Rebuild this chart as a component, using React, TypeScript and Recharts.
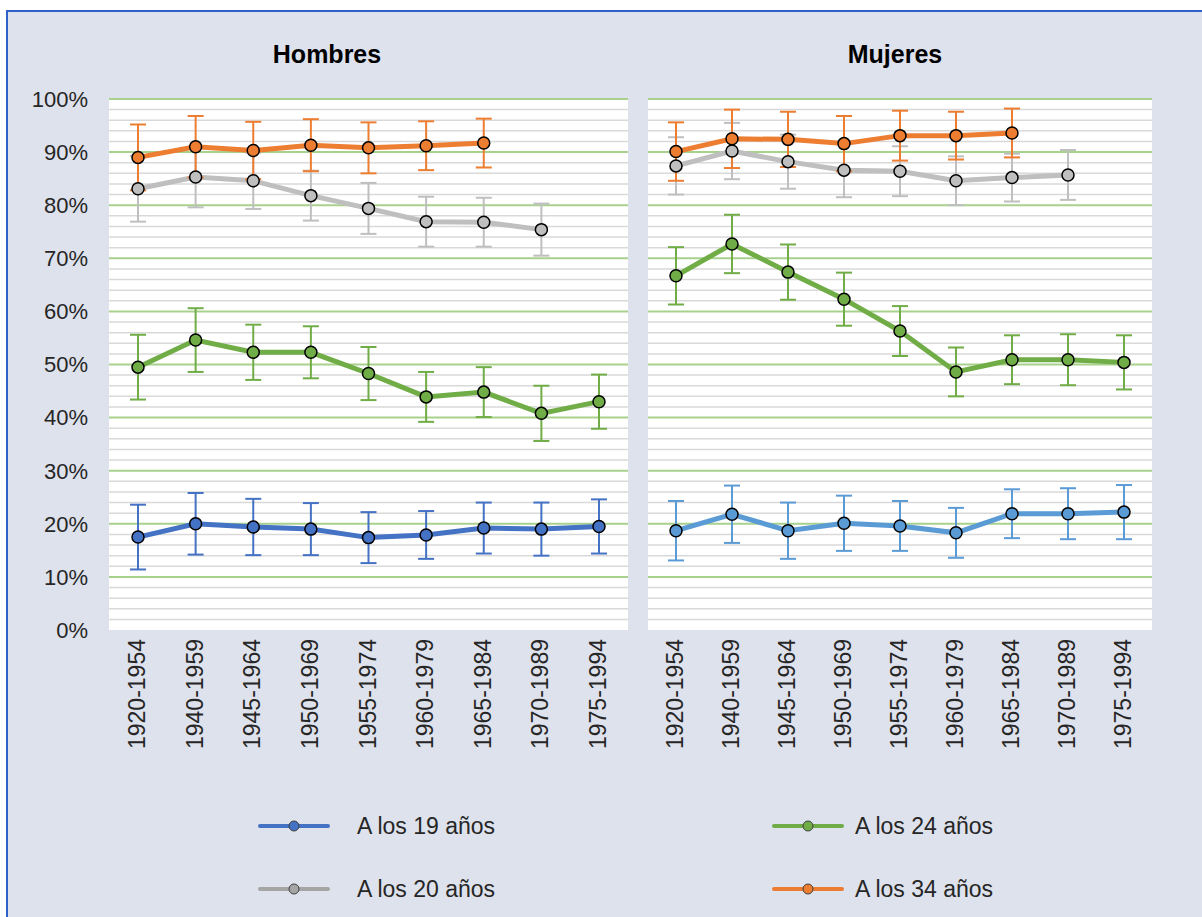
import React from 'react';
import { LineChart, Line, XAxis, YAxis, ErrorBar, ReferenceLine, CartesianGrid } from 'recharts';

const categories = ['1920-1954', '1940-1959', '1945-1964', '1950-1969', '1955-1974', '1960-1979', '1965-1984', '1970-1989', '1975-1994'];

const h19 = [17.5, 20.0, 19.4, 19.0, 17.4, 17.9, 19.2, 19.0, 19.5];
const h19Err = [6.1, 5.8, 5.3, 4.9, 4.8, 4.5, 4.8, 5.0, 5.1];
const h20 = [83.1, 85.3, 84.6, 81.8, 79.4, 76.9, 76.8, 75.4, null];
const h20Err = [6.2, 5.7, 5.3, 4.7, 4.8, 4.7, 4.6, 4.9, null];
const h24 = [49.5, 54.6, 52.3, 52.3, 48.3, 43.9, 44.8, 40.8, 43.0];
const h24Err = [6.1, 6.0, 5.2, 4.9, 5.0, 4.7, 4.7, 5.2, 5.1];
const h34 = [89.0, 91.0, 90.3, 91.3, 90.8, 91.2, 91.7, null, null];
const h34Err = [6.2, 5.8, 5.4, 4.9, 4.8, 4.6, 4.6, null, null];

const m19 = [18.7, 21.8, 18.7, 20.1, 19.6, 18.3, 21.9, 21.9, 22.2];
const m19Err = [5.6, 5.4, 5.3, 5.2, 4.7, 4.7, 4.6, 4.8, 5.1];
const m20 = [87.4, 90.2, 88.2, 86.6, 86.4, 84.6, 85.2, 85.7, null];
const m20Err = [5.4, 5.3, 5.1, 5.1, 4.7, 4.6, 4.5, 4.7, null];
const m24 = [66.7, 72.7, 67.4, 62.3, 56.3, 48.6, 50.9, 50.9, 50.4];
const m24Err = [5.4, 5.5, 5.2, 5.0, 4.7, 4.6, 4.6, 4.8, 5.1];
const m34 = [90.1, 92.5, 92.4, 91.6, 93.1, 93.1, 93.6, null, null];
const m34Err = [5.5, 5.5, 5.2, 5.2, 4.7, 4.5, 4.6, null, null];

const yTicks = [0, 10, 20, 30, 40, 50, 60, 70, 80, 90, 100];
const majorGrid = [10, 20, 30, 40, 50, 60, 70, 80, 90, 100];
const minorGrid = [2, 4, 6, 8, 12, 14, 16, 18, 22, 24, 26, 28, 32, 34, 36, 38, 42, 44, 46, 48, 52, 54, 56, 58, 62, 64, 66, 68, 72, 74, 76, 78, 82, 84, 86, 88, 92, 94, 96, 98];

const seriesNames = ['A los 19 años', 'A los 20 años', 'A los 24 años', 'A los 34 años'];

const FONT = '"Liberation Sans", Arial, sans-serif';
const ORANGE = '#ED7D31';
const GRAY = '#BFBFBF';
const GREEN = '#70AD47';
const BLUE_H = '#4472C4';
const BLUE_M = '#5B9BD5';

function buildRows(a: any[], ae: any[], b: any[], be: any[], c: any[], ce: any[], d: any[], de: any[]) {
  return categories.map((cat, i) => ({
    cat,
    s19: a[i], e19: ae[i],
    s20: b[i], e20: be[i],
    s24: c[i], e24: ce[i],
    s34: d[i], e34: de[i],
  }));
}

const hombresData = buildRows(h19, h19Err, h20, h20Err, h24, h24Err, h34, h34Err);
const mujeresData = buildRows(m19, m19Err, m20, m20Err, m24, m24Err, m34, m34Err);

const XTick = (props: any) => {
  const { x, y, payload } = props;
  const tx = x + 7;
  const ty = y + 1;
  return (
    <text x={tx} y={ty} transform={`rotate(-90, ${tx}, ${ty})`} textAnchor="end" fontSize={23} fontFamily={FONT} fill="#262626">
      {payload.value}
    </text>
  );
};

function Panel({ data, blue, showY, width, marginLeft, marginRight, pad }: any) {
  const dot = (c: string) => ({ r: 6, fill: c, stroke: '#000', strokeWidth: 1.5 });
  return (
    <LineChart width={width} height={780} data={data} margin={{ top: 99, right: marginRight, bottom: 0, left: marginLeft }}>
      <CartesianGrid fill="#ffffff" horizontal={false} vertical={false} />
      {minorGrid.map((v) => (
        <ReferenceLine key={'mi' + v} y={v} stroke="#D9D9D9" strokeWidth={1.5} />
      ))}
      {majorGrid.map((v) => (
        <ReferenceLine key={'ma' + v} y={v} stroke="#A9D18E" strokeWidth={2} />
      ))}
      <XAxis dataKey="cat" height={150} tickLine={false} axisLine={false} tick={<XTick />} interval={0} padding={{ left: pad, right: pad }} />
      <YAxis
        domain={[0, 100]}
        ticks={yTicks}
        hide={!showY}
        width={showY ? 109 : 0}
        tickLine={false}
        axisLine={false}
        tickMargin={15}
        tickFormatter={(v: number) => `${v}%`}
        tick={{ fontSize: 22, fontFamily: FONT, fill: '#262626' }}
        allowDataOverflow
      />
      <Line dataKey="s19" stroke={blue} strokeWidth={5} dot={dot(blue)} isAnimationActive={false}>
        <ErrorBar dataKey="e19" width={8} strokeWidth={2} stroke={blue} direction="y" />
      </Line>
      <Line dataKey="s20" stroke={GRAY} strokeWidth={5} dot={dot(GRAY)} isAnimationActive={false}>
        <ErrorBar dataKey="e20" width={8} strokeWidth={2} stroke={GRAY} direction="y" />
      </Line>
      <Line dataKey="s24" stroke={GREEN} strokeWidth={5} dot={dot(GREEN)} isAnimationActive={false}>
        <ErrorBar dataKey="e24" width={8} strokeWidth={2} stroke={GREEN} direction="y" />
      </Line>
      <Line dataKey="s34" stroke={ORANGE} strokeWidth={5} dot={dot(ORANGE)} isAnimationActive={false}>
        <ErrorBar dataKey="e34" width={8} strokeWidth={2} stroke={ORANGE} direction="y" />
      </Line>
    </LineChart>
  );
}

const legendItems = [
  { name: seriesNames[0], color: BLUE_H, left: 258, textLeft: 357, top: 826 },
  { name: seriesNames[2], color: GREEN, left: 772, textLeft: 855, top: 826 },
  { name: seriesNames[1], color: '#A5A5A5', left: 258, textLeft: 357, top: 889 },
  { name: seriesNames[3], color: ORANGE, left: 772, textLeft: 855, top: 889 },
];

export default function App() {
  return (
    <div style={{ position: 'absolute', left: 0, top: 0, width: 1202, height: 917, background: '#ffffff', overflow: 'hidden', fontFamily: FONT }}>
      <div style={{ position: 'absolute', left: 6, top: 10, width: 1202, height: 917, background: '#DEE2EC', borderTop: '2px solid #2E62C8', borderLeft: '2px solid #2E62C8', boxSizing: 'border-box' }} />
      <div style={{ position: 'absolute', left: 0, top: 0 }}>
        <Panel data={hombresData} blue={BLUE_H} showY width={640} marginLeft={0} marginRight={12} pad={29} />
      </div>
      <div style={{ position: 'absolute', left: 640, top: 0 }}>
        <Panel data={mujeresData} blue={BLUE_M} showY={false} width={520} marginLeft={8} marginRight={8} pad={28} />
      </div>
      <div style={{ position: 'absolute', left: 227, width: 200, top: 40, textAlign: 'center', fontSize: 25, fontWeight: 'bold', color: '#000' }}>Hombres</div>
      <div style={{ position: 'absolute', left: 795, width: 200, top: 40, textAlign: 'center', fontSize: 25, fontWeight: 'bold', color: '#000' }}>Mujeres</div>
      {legendItems.map((it) => (
        <React.Fragment key={it.name}>
          <svg style={{ position: 'absolute', left: it.left, top: it.top - 20 }} width={72} height={40}>
            <line x1={2} y1={20} x2={70} y2={20} stroke={it.color} strokeWidth={4} strokeLinecap="round" />
            <circle cx={36} cy={20} r={5} fill={it.color} stroke="#404040" strokeWidth={1} />
          </svg>
          <div style={{ position: 'absolute', left: it.textLeft, top: it.top - 20, height: 40, lineHeight: '40px', fontSize: 23, color: '#262626', whiteSpace: 'nowrap' }}>{it.name}</div>
        </React.Fragment>
      ))}
    </div>
  );
}
